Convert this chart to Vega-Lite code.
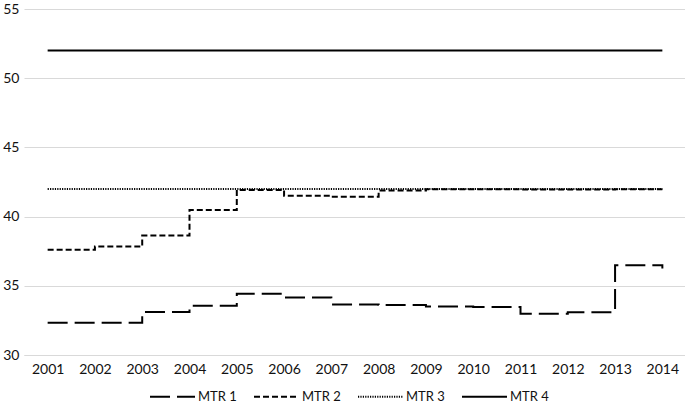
{
  "$schema": "https://vega.github.io/schema/vega-lite/v6.json",
  "width": 662,
  "height": 346,
  "padding": {"left": 2, "top": 2, "right": 0, "bottom": 0},
  "background": "white",
  "config": {
    "view": {"stroke": null},
    "font": "Lato",
    "axis": {"labelFont": "Lato", "labelFontSize": 14, "labelColor": "#111111"},
    "legend": {"labelFont": "Lato", "labelFontSize": 13, "labelColor": "#111111"}
  },
  "data": {
    "values": [
      {"series": "MTR 1", "year": 2001, "value": 32.33},
      {"series": "MTR 1", "year": 2002, "value": 32.33},
      {"series": "MTR 1", "year": 2003, "value": 33.1},
      {"series": "MTR 1", "year": 2004, "value": 33.55},
      {"series": "MTR 1", "year": 2005, "value": 34.42},
      {"series": "MTR 1", "year": 2006, "value": 34.15},
      {"series": "MTR 1", "year": 2007, "value": 33.65},
      {"series": "MTR 1", "year": 2008, "value": 33.62},
      {"series": "MTR 1", "year": 2009, "value": 33.5},
      {"series": "MTR 1", "year": 2010, "value": 33.47},
      {"series": "MTR 1", "year": 2011, "value": 32.98},
      {"series": "MTR 1", "year": 2012, "value": 33.08},
      {"series": "MTR 1", "year": 2013, "value": 36.48},
      {"series": "MTR 1", "year": 2014, "value": 36.25},
      {"series": "MTR 2", "year": 2001, "value": 37.6},
      {"series": "MTR 2", "year": 2002, "value": 37.84},
      {"series": "MTR 2", "year": 2003, "value": 38.63},
      {"series": "MTR 2", "year": 2004, "value": 40.48},
      {"series": "MTR 2", "year": 2005, "value": 41.93},
      {"series": "MTR 2", "year": 2006, "value": 41.5},
      {"series": "MTR 2", "year": 2007, "value": 41.43},
      {"series": "MTR 2", "year": 2008, "value": 41.88},
      {"series": "MTR 2", "year": 2009, "value": 41.97},
      {"series": "MTR 2", "year": 2010, "value": 41.97},
      {"series": "MTR 2", "year": 2011, "value": 41.96},
      {"series": "MTR 2", "year": 2012, "value": 41.96},
      {"series": "MTR 2", "year": 2013, "value": 41.98},
      {"series": "MTR 2", "year": 2014, "value": 41.98},
      {"series": "MTR 3", "year": 2001, "value": 42},
      {"series": "MTR 3", "year": 2002, "value": 42},
      {"series": "MTR 3", "year": 2003, "value": 42},
      {"series": "MTR 3", "year": 2004, "value": 42},
      {"series": "MTR 3", "year": 2005, "value": 42},
      {"series": "MTR 3", "year": 2006, "value": 42},
      {"series": "MTR 3", "year": 2007, "value": 42},
      {"series": "MTR 3", "year": 2008, "value": 42},
      {"series": "MTR 3", "year": 2009, "value": 42},
      {"series": "MTR 3", "year": 2010, "value": 42},
      {"series": "MTR 3", "year": 2011, "value": 42},
      {"series": "MTR 3", "year": 2012, "value": 42},
      {"series": "MTR 3", "year": 2013, "value": 42},
      {"series": "MTR 3", "year": 2014, "value": 42},
      {"series": "MTR 4", "year": 2001, "value": 52},
      {"series": "MTR 4", "year": 2002, "value": 52},
      {"series": "MTR 4", "year": 2003, "value": 52},
      {"series": "MTR 4", "year": 2004, "value": 52},
      {"series": "MTR 4", "year": 2005, "value": 52},
      {"series": "MTR 4", "year": 2006, "value": 52},
      {"series": "MTR 4", "year": 2007, "value": 52},
      {"series": "MTR 4", "year": 2008, "value": 52},
      {"series": "MTR 4", "year": 2009, "value": 52},
      {"series": "MTR 4", "year": 2010, "value": 52},
      {"series": "MTR 4", "year": 2011, "value": 52},
      {"series": "MTR 4", "year": 2012, "value": 52},
      {"series": "MTR 4", "year": 2013, "value": 52},
      {"series": "MTR 4", "year": 2014, "value": 52}
    ]
  },
  "mark": {"type": "line", "interpolate": "step-after", "color": "black"},
  "encoding": {
    "x": {
      "field": "year",
      "type": "quantitative",
      "scale": {"domain": [2000.5, 2014.5], "nice": false, "zero": false},
      "axis": {
        "title": null,
        "values": [2001, 2002, 2003, 2004, 2005, 2006, 2007, 2008, 2009, 2010, 2011, 2012, 2013, 2014],
        "format": "d",
        "grid": false,
        "ticks": false,
        "domain": true,
        "domainColor": "#d9d9d9",
        "labelPadding": 7,
        "labelFlush": false
      }
    },
    "y": {
      "field": "value",
      "type": "quantitative",
      "scale": {"domain": [30, 55], "nice": false, "zero": false},
      "axis": {
        "title": null,
        "values": [30, 35, 40, 45, 50, 55],
        "grid": true,
        "gridColor": "#d9d9d9",
        "gridWidth": 1,
        "domain": false,
        "ticks": false,
        "labelPadding": 5
      }
    },
    "strokeDash": {
      "field": "series",
      "type": "nominal",
      "scale": {"domain": ["MTR 1", "MTR 2", "MTR 3", "MTR 4"], "range": [[20, 7], [6, 3], [1.2, 1.2], [1, 0]]},
      "legend": {
        "title": null,
        "orient": "none",
        "legendX": 125,
        "legendY": 364,
        "direction": "horizontal",
        "symbolType": "stroke",
        "symbolSize": 2025,
        "symbolStrokeColor": "black",
        "symbolStrokeWidth": 2,
        "labelOffset": 2,
        "columnPadding": 13,
        "gridAlign": "all"
      }
    },
    "strokeWidth": {
      "field": "series",
      "type": "nominal",
      "scale": {"domain": ["MTR 1", "MTR 2", "MTR 3", "MTR 4"], "range": [2, 2, 1.3, 2]},
      "legend": null
    }
  }
}
